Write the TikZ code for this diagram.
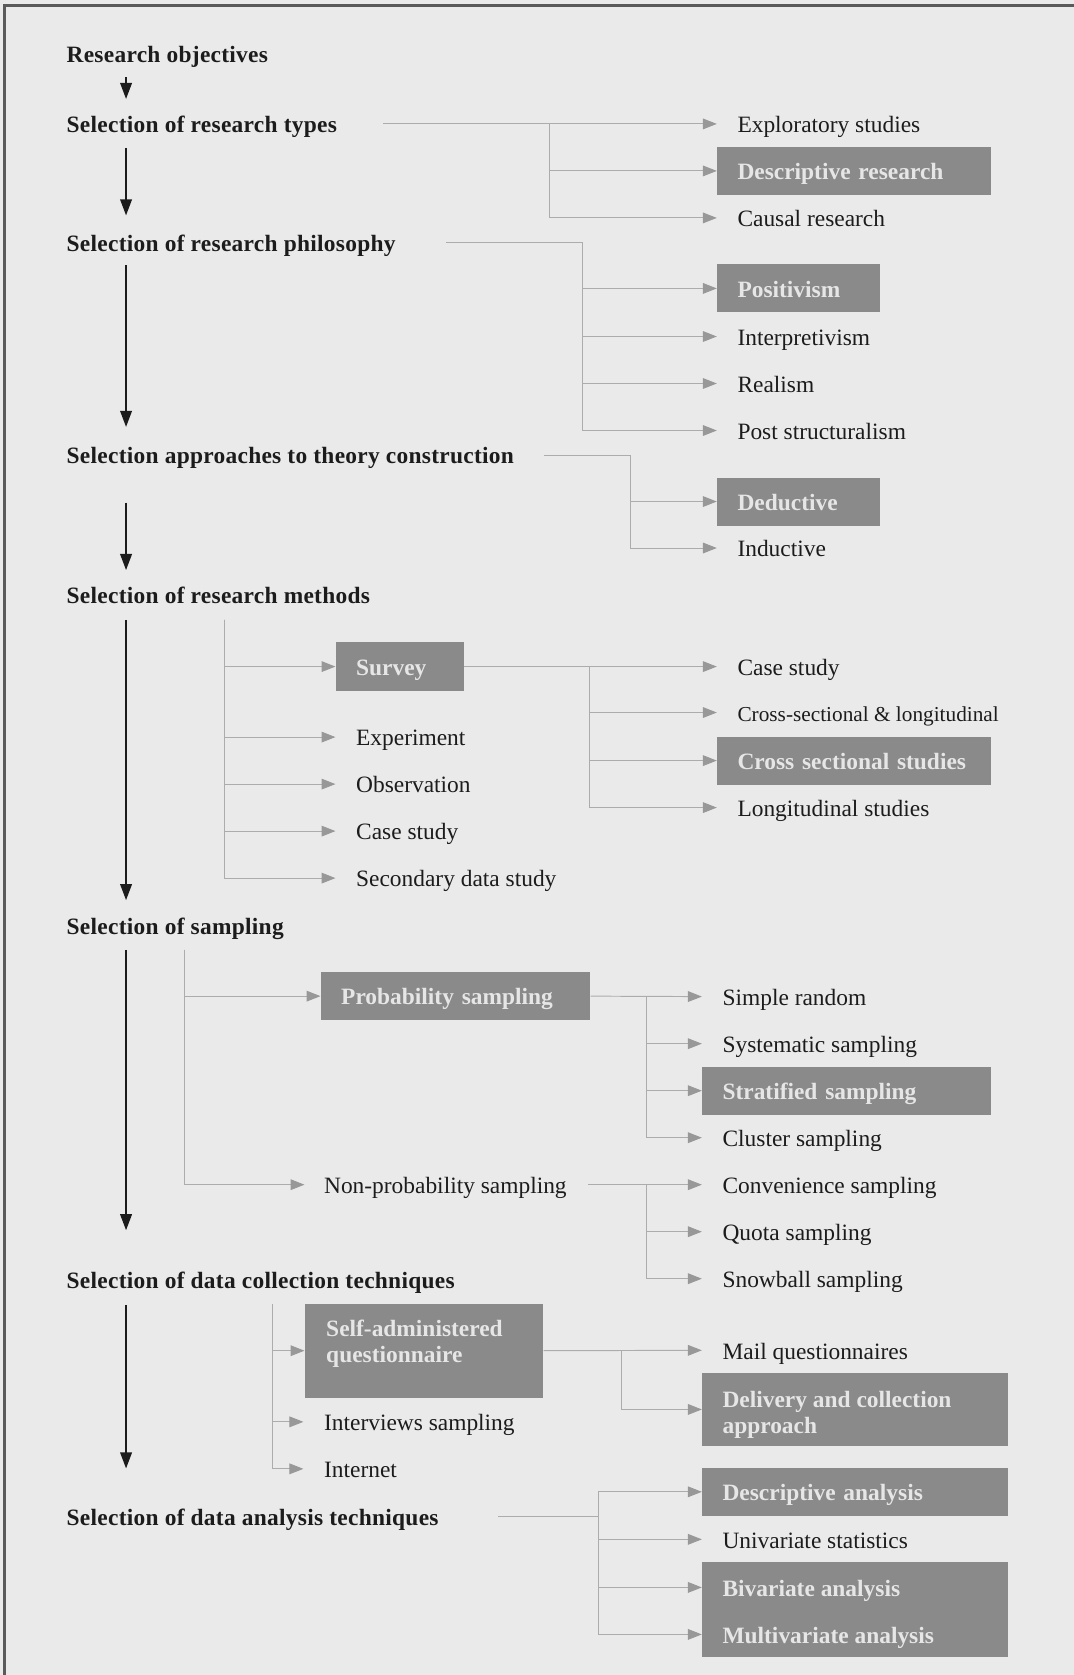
\documentclass[tikz,border=0pt]{standalone}
\usepackage{fontspec}
\setmainfont{Liberation Serif}
\newfontfamily\stagefont{Liberation Serif}[LetterSpace=1.2]
\usetikzlibrary{arrows.meta}
\definecolor{bg}{RGB}{234,234,234}
\definecolor{boxgray}{RGB}{138,138,138}
\definecolor{boxtext}{RGB}{230,230,230}
\definecolor{linegray}{RGB}{172,172,172}
\definecolor{headgray}{RGB}{152,152,152}
\definecolor{ink}{RGB}{28,28,28}
\definecolor{framecol}{RGB}{90,90,90}

\begin{document}
\begin{tikzpicture}[x=0.5bp,y=-0.5bp,
  lbl/.style={anchor=west, inner sep=0pt, text height=9.1bp, text depth=0.9bp,
              font=\fontsize{11}{13}\selectfont, text=ink},
  stage/.style={lbl, font=\stagefont\fontsize{11}{13}\selectfont\bfseries},
  box/.style={anchor=west, fill=boxgray, inner xsep=9.5bp, inner ysep=0pt,
              minimum height=22.5bp, text height=9.1bp, text depth=0.9bp, align=left,
              font=\fontsize{11}{13}\selectfont\bfseries, text=boxtext},
  panel/.style={fill=boxgray, inner sep=0pt, anchor=north west},
  boxlbl/.style={lbl, font=\fontsize{11}{13}\selectfont\bfseries, text=boxtext},
  link/.style={draw=linegray, line width=0.45bp},
  conn/.style={link, -{Triangle[length=6.5bp,width=5bp,color=headgray]}},
  totext/.style={conn, shorten >=9.5bp},
  flow/.style={draw=ink, line width=0.65bp, -{Triangle[length=7.5bp,width=5.5bp]}},
]
% page and frame
\fill[bg] (0,0) rectangle (1005,1568);
\useasboundingbox (0,0) rectangle (1005,1568);
\draw[framecol, line width=1.3bp] (4,1600) -- (4,5) -- (1030,5);

% x positions of the vertical rails
\coordinate (ax) at (118,0);
\coordinate (tx) at (514,0);
\coordinate (px) at (545,0);
\coordinate (thx) at (590,0);
\coordinate (sx) at (552,0);
\coordinate (qx) at (605,0);
\coordinate (dx) at (582,0);
\coordinate (anx) at (560,0);
\coordinate (mtop) at (210,580);
\coordinate (stop) at (173,889);
\coordinate (ctop) at (255,1221);

% stages
\node[stage] (ro) at (62,50) {Research objectives};
\node[stage] (rt) at (62,116) {Selection of research types};
\node[stage] (rp) at (62,227) {Selection of research philosophy};
\node[stage] (ra) at (62,426) {Selection approaches to theory construction};
\node[stage] (rm) at (62,557) {Selection of research methods};
\node[stage] (rs) at (62,867) {Selection of sampling};
\node[stage] (rc) at (62,1198) {Selection of data collection techniques};
\node[stage] (rd) at (62,1420) {Selection of data analysis techniques};

\draw[flow, shorten <=6bp, shorten >=6.5bp] (ro.south -| ax) -- (rt.north -| ax);
\draw[flow, shorten <=6bp, shorten >=7.5bp] (rt.south -| ax) -- (rp.north -| ax);
\draw[flow, shorten <=5.5bp, shorten >=8bp] (rp.south -| ax) -- (ra.north -| ax);
\draw[flow, shorten <=17bp, shorten >=6.5bp] (ra.south -| ax) -- (rm.north -| ax);
\draw[flow, shorten <=6.5bp, shorten >=7bp] (rm.south -| ax) -- (rs.north -| ax);
\draw[flow, shorten <=6bp, shorten >=18bp] (rs.south -| ax) -- (rc.north -| ax);
\draw[flow, shorten <=6.5bp, shorten >=17.5bp] (rc.south -| ax) -- (rd.north -| ax);

% research types
\node[lbl] (exp) at (690,116) {Exploratory studies};
\node[box, text width=109bp] (desc) at (671,160) {Descriptive research};
\node[lbl] (caus) at (690,204) {Causal research};
\draw[totext, shorten <=21.5bp] (rt.east) -- (exp.west);
\draw[conn] (rt.east -| tx) |- (desc.west);
\draw[totext] (rt.east -| tx) |- (caus.west);

% research philosophy
\node[box, text width=57bp] (pos) at (671,270) {Positivism};
\node[lbl] (interp) at (690,315) {Interpretivism};
\node[lbl] (real) at (690,359) {Realism};
\node[lbl] (post) at (690,403) {Post structuralism};
\draw[link, shorten <=23.5bp] (rp.east) -- (rp.east -| px);
\draw[conn] (rp.east -| px) |- (pos.west);
\draw[totext] (rp.east -| px) |- (interp.west);
\draw[totext] (rp.east -| px) |- (real.west);
\draw[totext] (rp.east -| px) |- (post.west);

% theory construction
\node[box, text width=57bp] (ded) at (671,469.5) {Deductive};
\node[lbl] (ind) at (690,513) {Inductive};
\draw[link, shorten <=14bp] (ra.east) -- (ra.east -| thx);
\draw[conn] (ra.east -| thx) |- (ded.west);
\draw[totext] (ra.east -| thx) |- (ind.west);

% research methods
\node[box, text width=41bp, minimum height=23bp] (surv) at (314,624) {Survey};
\node[lbl] (expr) at (333,690) {Experiment};
\node[lbl] (obs) at (333,734) {Observation};
\node[lbl] (mcs) at (333,778) {Case study};
\node[lbl] (sec) at (333,822) {Secondary data study};
\draw[conn] (mtop) |- (surv.west);
\draw[totext] (mtop) |- (expr.west);
\draw[totext] (mtop) |- (obs.west);
\draw[totext] (mtop) |- (mcs.west);
\draw[totext] (mtop) |- (sec.west);

\node[lbl] (scs) at (690,624) {Case study};
\node[lbl, font=\fontsize{10}{12}\selectfont] (csl) at (690,667) {Cross-sectional \& longitudinal};
\node[box, text width=109bp] (css) at (671,712) {Cross sectional studies};
\node[lbl] (lon) at (690,756) {Longitudinal studies};
\draw[totext] (surv.east) -- (scs.west);
\draw[totext] (surv.east -| sx) |- (csl.west);
\draw[conn] (surv.east -| sx) |- (css.west);
\draw[totext] (surv.east -| sx) |- (lon.west);

% sampling
\node[box, text width=107bp] (prob) at (300,932.5) {Probability sampling};
\node[lbl] (nonp) at (303,1109) {Non-probability sampling};
\draw[conn] (stop) |- (prob.west);
\draw[conn, shorten >=9bp] (stop) |- (nonp.west);

\node[lbl] (sr) at (676,933) {Simple random};
\node[lbl] (sys) at (676,977) {Systematic sampling};
\node[box, text width=116bp] (strat) at (657,1021) {Stratified sampling};
\node[lbl] (clu) at (676,1065) {Cluster sampling};
\draw[totext] (prob.east) -- (sr.west);
\draw[totext] (prob.east -| qx) |- (sys.west);
\draw[conn] (prob.east -| qx) |- (strat.west);
\draw[totext] (prob.east -| qx) |- (clu.west);

\node[lbl] (conv) at (676,1109) {Convenience sampling};
\node[lbl] (quo) at (676,1153) {Quota sampling};
\node[lbl] (snow) at (676,1197) {Snowball sampling};
\draw[totext, shorten <=10bp] (nonp.east) -- (conv.west);
\draw[totext] (nonp.east -| qx) |- (quo.west);
\draw[totext] (nonp.east -| qx) |- (snow.west);

% data collection
\node[panel, minimum width=111.5bp, minimum height=44bp] (self) at (285,1220) {};
\node[boxlbl] (self1) at (305,1242.5) {Self-administered};
\node[boxlbl] (self2) at (305,1267.5) {questionnaire};
\node[lbl] (intv) at (303,1331) {Interviews sampling};
\node[lbl] (inet) at (303,1375) {Internet};
\draw[conn] (ctop) |- (self.west);
\draw[totext] (ctop) |- (intv.west);
\draw[totext] (ctop) |- (inet.west);

\node[lbl] (mail) at (676,1264) {Mail questionnaires};
\node[panel, minimum width=143bp, minimum height=34bp] (deliv) at (657,1285) {};
\node[boxlbl] (deliv1) at (676,1309) {Delivery and collection};
\node[boxlbl] (deliv2) at (676,1334) {approach};
\draw[totext] (self.east) -- (mail.west);
\draw[conn] (self.east -| dx) |- (deliv.west);

% data analysis
\node[box, text width=124bp] (desca) at (657,1396.5) {Descriptive analysis};
\node[lbl] (uni) at (676,1441) {Univariate statistics};
\node[panel, minimum width=143bp, minimum height=44.5bp] (bm) at (657,1462) {};
\node[boxlbl] (biv) at (676,1486) {Bivariate analysis};
\node[boxlbl] (mul) at (676,1530) {Multivariate analysis};
\draw[link, shorten <=27.5bp] (rd.east) -- (rd.east -| anx);
\draw[conn] (rd.east -| anx) |- (desca.west);
\draw[totext] (rd.east -| anx) |- (uni.west);
\draw[conn] (rd.east -| anx) |- (biv.west -| bm.west);
\draw[conn] (rd.east -| anx) |- (mul.west -| bm.west);
\end{tikzpicture}
\end{document}
